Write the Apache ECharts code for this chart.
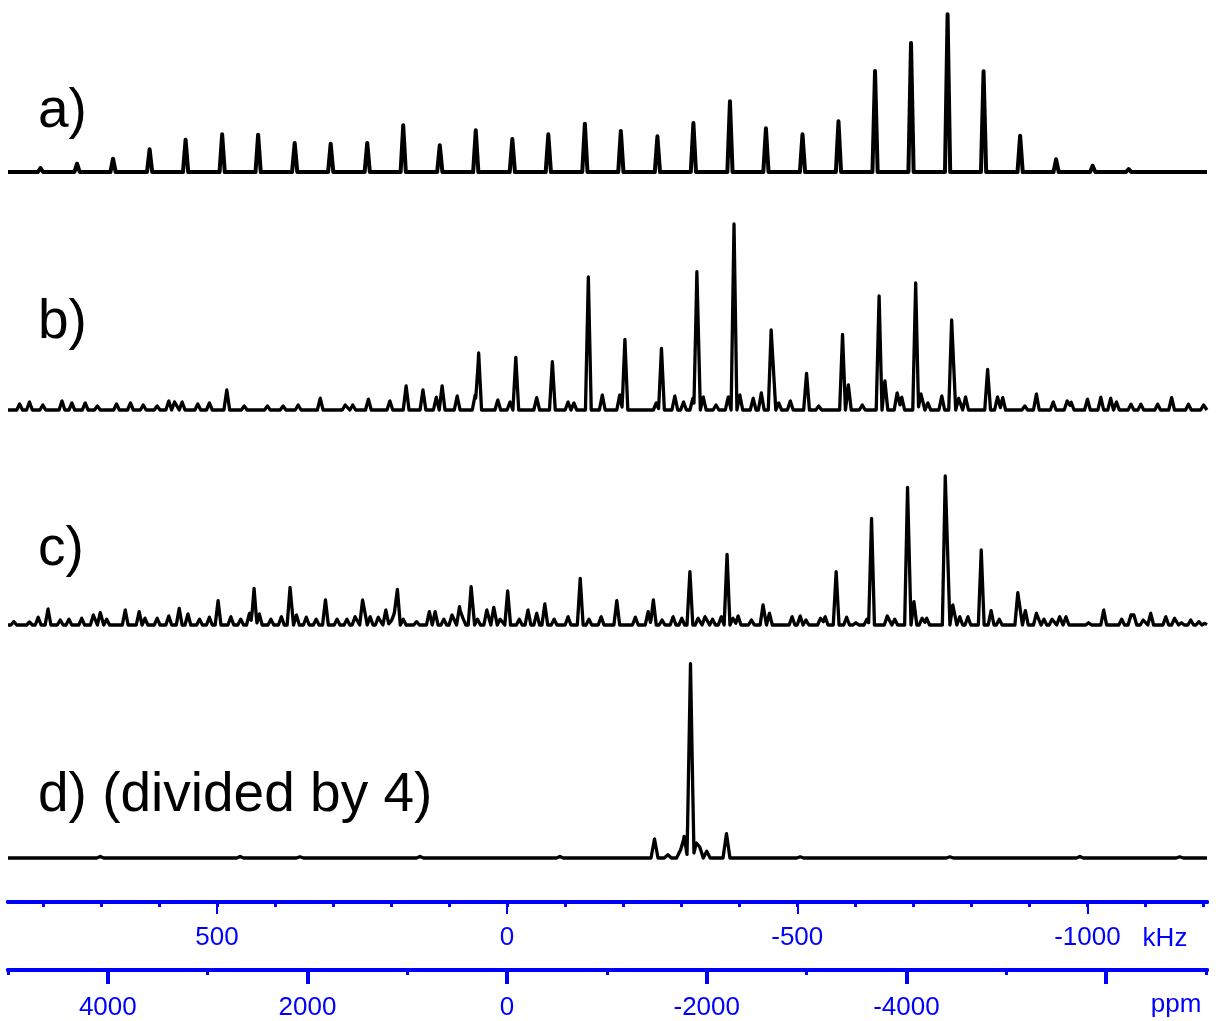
<!DOCTYPE html>
<html><head><meta charset="utf-8">
<script src="https://cdn.jsdelivr.net/npm/echarts@6/dist/echarts.min.js"></script>
<style>html,body{margin:0;padding:0;background:#fff}#c{width:1216px;height:1021px}</style>
</head><body><div id="c"></div>
<script>
// ---- axis data ----
const LARMOR_MHZ = 172.0;           // 195Pt at 18.8 T
const KHZ_MAX = 860, KHZ_MIN = -1206;
const kHzMajorTicks = [500, 0, -500, -1000];
const kHzMinorTicks = [800,700,600,500,400,300,200,100,0,-100,-200,-300,-400,-500,-600,-700,-800,-900,-1000,-1100,-1200];
const ppmMajorTicks = [4000, 2000, 0, -2000, -4000, -6000];
const ppmLabelValues = [4000, 2000, 0, -2000, -4000];
const ppmMinorTicks = [5000, 3000, 1000, -1000, -3000, -5000, -7000];
const spectrumLabels = ['a)', 'b)', 'c)', 'd) (divided by 4)'];

// ---- spectra: [position kHz, intensity a.u.] ----
const peaksA = [[804,4],[741,8.3],[679,13.3],[616,22.7],[554,32.3],[491,37.7],[429,37.3],[366,29],[304,28.3],[241,29],
 [179,46.7],[116,26.7],[54,41.7],[-9,33],[-71,37.7],[-134,48.3],[-196,41],[-259,35.7],[-321,49],[-384,70.7],
 [-446,43.7],[-509,37.7],[-571,50.7],[-634,101],[-696,129],[-759,157.7],[-821,100.7],[-884,36.3],[-946,12.7],[-1009,6.3],[-1071,3]];

const peaksB = [[840,6],[823,8],[800,5],[767,9],[750,7],[727,7],[706,4],[673,6],[649,7],[627,5],[603,4],[583,9],[573,8],[560,8],
 [533,6],[513,7],[483,20],[453,4],[413,4],[386,4],[360,5],[322,11.7],[279,5],[266,5],[239,10.7],[202,9],[174,24],[145,20],
 [122,12.7],[112,24],[86,14],[55,15],[49,57],[16,10],[-5,8],[-15,52.7],[-51,12.3],[-78,48.3],[-105,8],[-115,7],[-140,133],
 [-164,15],[-194,15],[-203,70.7],[-257,7],[-266,61.7],[-289,14],[-304,8],[-320,11.7],[-327,138.3],[-338,13],[-360,5],
 [-381,13],[-391,186],[-401,15],[-424,11.7],[-438,17],[-455,80],[-468,7],[-488,9],[-516,36.7],[-537,4],[-578,75.7],
 [-588,25],[-612,5],[-641,114],[-651,29],[-672,17],[-680,12.7],[-704,127],[-713,16],[-725,7],[-749,14],[-766,90],
 [-778,11.7],[-790,13],[-828,40.7],[-845,13],[-854,12.3],[-892,4],[-912,16],[-941,8],[-965,9],[-972,7.7],[-1000,10.7],
 [-1023,12.7],[-1040,11.7],[-1050,8],[-1075,5.7],[-1092,5.7],[-1121,5.7],[-1145,12.3],[-1174,5.7],[-1200,5]];

const peaksC = [[850,3.3],[823,3],[808,7.7],[791,16],[770,5],[755,5.7],[733,6.7],[713,10],[701,12.3],[690,5.7],[658,15],
 [634,13.3],[624,6.7],[603,6.7],[583,9],[565,16.7],[550,11],[530,5.7],[513,7.7],[498,24.3],[476,8.3],[459,5.7],[444,11.7],
 [436,36.7],[427,11],[407,5.7],[389,8.3],[374,37.7],[363,10],[346,7.7],[329,5.7],[313,25],[293,5.7],[276,5.7],[262,8.3],
 [249,25],[236,8.3],[222,7.7],[209,15],[200,5.7],[194,13.3],[189,35.7],[179,5.7],[156,3.3],[134,13.3],[124,13.3],[109,5.7],
 [95,10],[82,18.3],[76,6.7],[62,38.3],[51,5.7],[35,15],[23,17.7],[12,5.7],[-1,34],[-21,5.7],[-36,15],[-51,11.7],[-65,21],
 [-81,5.7],[-105,8.3],[-126,46.7],[-141,5.7],[-162,8.3],[-189,24.3],[-221,7.7],[-243,13.3],[-252,25],[-267,5],[-286,8.3],
 [-301,6.7],[-315,53.3],[-329,6.7],[-341,8.3],[-354,5.7],[-369,8.3],[-379,70.7],[-389,6.7],[-398,9],[-421,5],[-441,20],
 [-452,11.7],[-491,8.3],[-505,9],[-515,5],[-540,6.7],[-548,8.3],[-567,53.3],[-585,7.7],[-601,2.3],[-620,5.7],[-628,106.7],
 [-655,9],[-668,5.7],[-690,137.7],[-701,23.3],[-715,6.7],[-723,6.7],[-755,149],[-768,20],[-780,8.3],[-794,8.3],[-817,75],
 [-834,14.3],[-848,5.7],[-880,32.3],[-893,14.3],[-912,11.7],[-925,5.7],[-939,5.7],[-952,8.3],[-963,8.3],[-1002,2.3],
 [-1028,15],[-1059,5.7],[-1075,10],[-1080,10],[-1096,5],[-1109,11.7],[-1135,8.3],[-1150,6.7],[-1162,2.3],[-1178,5],
 [-1192,3.3],[-1202,1.7]];

const peaksD = [[701,1.5],[460,1.5],[357,1.2],[150,1.5],[-91,1.5],[-254,19],[-277,3.3],[-298,10],[-305,21.7],[-316,194.3],
 [-326,15],[-332,11],[-344,6.7],[-378,24.3],[-505,1.2],[-763,1.2],[-987,1.5],[-1159,1.2]];

// ---- layout / style ----
const BLUE = '#0000ff';
const FONT = '"Liberation Sans", Arial, sans-serif';
const GL = 8, GW = 1199;
const gridsY = [ // top, height, yMax (baseline offset), yMin
  {top: 0,   height: 190, max: 172, min: -18},
  {top: 200, height: 230, max: 210, min: -20},
  {top: 440, height: 200, max: 185, min: -15},
  {top: 650, height: 225, max: 208, min: -17}
];
const halfWidths = [4.5, 5, 5, 6];
const lineWidths = [4, 3.3, 3.3, 3.3];
const labelBaselines = [129, 340, 567, 813];

function buildTrace(peaks, hw) {
  const xs = new Set([KHZ_MIN, KHZ_MAX]);
  peaks.forEach(([p]) => { xs.add(p - hw); xs.add(p); xs.add(p + hw); });
  const sorted = [...xs].filter(x => x >= KHZ_MIN && x <= KHZ_MAX).sort((a, b) => a - b);
  return sorted.map(x => [x, peaks.reduce((s, [p, h]) => s + Math.max(0, h * (1 - Math.abs(x - p) / hw)), 0)]);
}

const allPeaks = [peaksA, peaksB, peaksC, peaksD];
const grid = gridsY.map(g => ({left: GL, width: GW, top: g.top, height: g.height}));
grid.push({left: GL, width: GW, top: 860, height: 42});

const xAxis = gridsY.map((g, i) => ({type: 'value', gridIndex: i, min: KHZ_MIN, max: KHZ_MAX, inverse: true, show: false}));
const yAxis = gridsY.map((g, i) => ({type: 'value', gridIndex: i, min: g.min, max: g.max, show: false}));
yAxis.push({type: 'value', gridIndex: 4, min: 0, max: 1, show: false});

const ppmMin = KHZ_MIN * 1000 / LARMOR_MHZ, ppmMax = KHZ_MAX * 1000 / LARMOR_MHZ;
const lbl = (vals, margin) => ({show: true, customValues: vals, margin: margin, color: BLUE, fontSize: 26, fontFamily: FONT, formatter: v => String(v)});
const axBase = {type: 'value', gridIndex: 4, position: 'bottom', inverse: true, splitLine: {show: false},
  axisLine: {show: true, lineStyle: {color: BLUE, width: 4}}};
xAxis.push(Object.assign({}, axBase, {min: KHZ_MIN, max: KHZ_MAX, offset: 0,
  axisTick: {show: true, customValues: kHzMinorTicks, length: 5, lineStyle: {color: BLUE, width: 3}}, axisLabel: {show: false}}));
xAxis.push(Object.assign({}, axBase, {min: KHZ_MIN, max: KHZ_MAX, offset: 0,
  axisTick: {show: true, customValues: kHzMajorTicks, length: 12, lineStyle: {color: BLUE, width: 2}}, axisLabel: lbl(kHzMajorTicks, 23)}));
xAxis.push(Object.assign({}, axBase, {min: ppmMin, max: ppmMax, offset: 68,
  axisTick: {show: true, customValues: ppmMinorTicks, length: 5, lineStyle: {color: BLUE, width: 3}}, axisLabel: {show: false}}));
xAxis.push(Object.assign({}, axBase, {min: ppmMin, max: ppmMax, offset: 68,
  axisTick: {show: true, customValues: ppmMajorTicks, length: 14, lineStyle: {color: BLUE, width: 4}}, axisLabel: lbl(ppmLabelValues, 25)}));

const series = allPeaks.map((pk, i) => ({
  type: 'line', xAxisIndex: i, yAxisIndex: i, data: buildTrace(pk, halfWidths[i]),
  showSymbol: false, symbol: 'none', lineStyle: {color: '#000', width: lineWidths[i], join: 'round'}, silent: true
}));

const graphic = spectrumLabels.map((t, i) => ({
  type: 'text', x: 38, y: labelBaselines[i] - 17,
  style: {text: t, font: '55px ' + FONT, fill: '#000', align: 'left', verticalAlign: 'middle'}
}));
graphic.push({type: 'text', x: 1165, y: 939, style: {text: 'kHz', font: '26px ' + FONT, fill: BLUE, align: 'center', verticalAlign: 'middle'}});
graphic.push({type: 'text', x: 1176, y: 1005, style: {text: 'ppm', font: '26px ' + FONT, fill: BLUE, align: 'center', verticalAlign: 'middle'}});

const chart = echarts.init(document.getElementById('c'), null, {renderer: 'canvas'});
chart.setOption({animation: false, backgroundColor: '#fff', grid, xAxis, yAxis, series, graphic});
</script></body></html>
